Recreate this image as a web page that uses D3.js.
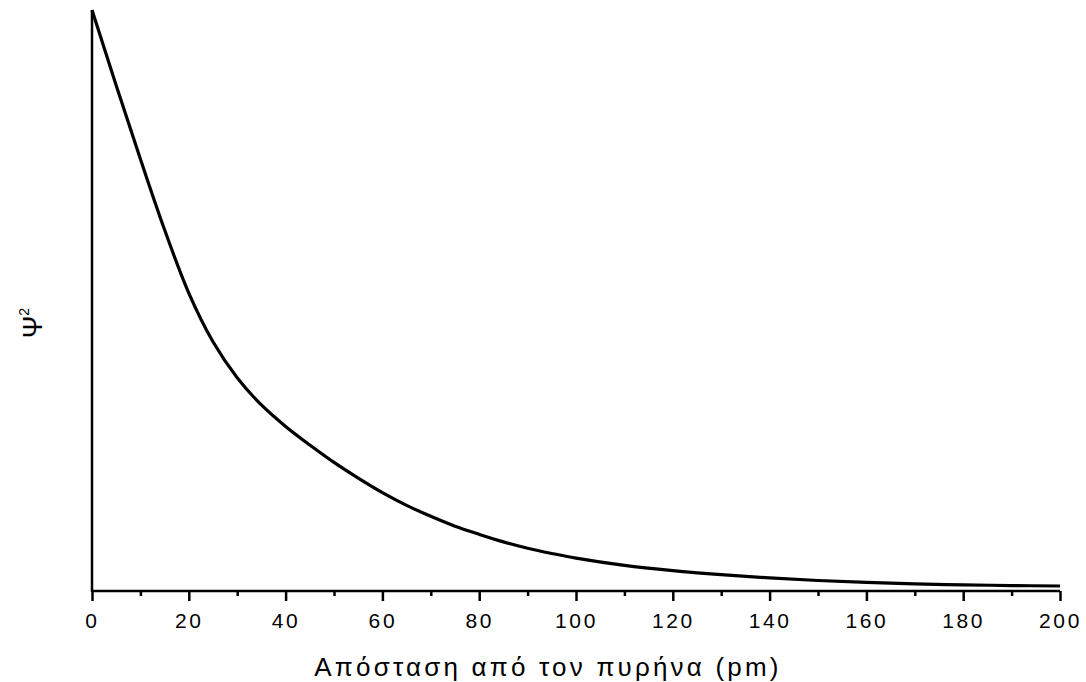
<!DOCTYPE html>
<html><head><meta charset="utf-8">
<script src="https://cdn.jsdelivr.net/npm/d3@7"></script>
<style>body{margin:0;background:#fff}svg{display:block}text{font-family:"Liberation Sans",Arial,sans-serif;fill:#000}</style>
</head><body>
<script>
const distances = [0,5,10,15,20,25,30,35,40,45,50,55,60,65,70,75,80,85,90,95,100,110,120,130,140,150,160,170,180,190,200];
const psiSquared = [1.000,0.870,0.743,0.621,0.512,0.428,0.366,0.319,0.282,0.250,0.220,0.193,0.168,0.146,0.127,0.110,0.096,0.083,0.072,0.063,0.055,0.0425,0.0335,0.0265,0.0208,0.0164,0.0131,0.0105,0.0089,0.0077,0.0069];
const xTicks = [0,20,40,60,80,100,120,140,160,180,200];
const xLabel = "Απόσταση από τον πυρήνα (pm)";
const yLabel = "Ψ";

const W = 1086, H = 682;
const svg = d3.select("body").append("svg").attr("width", W).attr("height", H);
const x = d3.scaleLinear().domain([0,200]).range([92,1060]);
const y = d3.scaleLinear().domain([0,1]).range([590,10]);

const xAxis = d3.axisBottom(x).tickValues(d3.range(0,201,10)).tickSize(10)
  .tickFormat(d => xTicks.includes(d) ? d : "");
const gx = svg.append("g").attr("transform","translate(0,591)").call(xAxis);
gx.select(".domain").attr("stroke","#000").attr("stroke-width",2.5).attr("d","M92,0H1060");
gx.selectAll(".tick line").attr("stroke","#000").attr("stroke-width",2.5)
  .attr("y2", d => xTicks.includes(d) ? 10 : 5);
gx.selectAll(".tick text").attr("y",22).attr("dy","0.71em")
  .style("font-size","21px").style("letter-spacing","2.6px").attr("fill","#000");

svg.append("line").attr("x1",92).attr("x2",92).attr("y1",y(1)).attr("y2",592)
  .attr("stroke","#000").attr("stroke-width",2.5);

const line = d3.line().x((d,i)=>x(distances[i])).y(d=>y(d)).curve(d3.curveCatmullRom.alpha(0.5));
svg.append("path").datum(psiSquared).attr("d",line).attr("fill","none")
  .attr("stroke","#000").attr("stroke-width",3.2);

svg.append("text").attr("x",548).attr("y",676).attr("text-anchor","middle")
  .style("font-size","26px").style("letter-spacing","3.2px").text(xLabel);

const yl = svg.append("text").attr("transform","translate(42,323) rotate(-90)")
  .attr("text-anchor","middle").style("font-size","27px");
yl.append("tspan").text(yLabel);
yl.append("tspan").attr("dy",-13).style("font-size","14px").text("2");
</script>
</body></html>
